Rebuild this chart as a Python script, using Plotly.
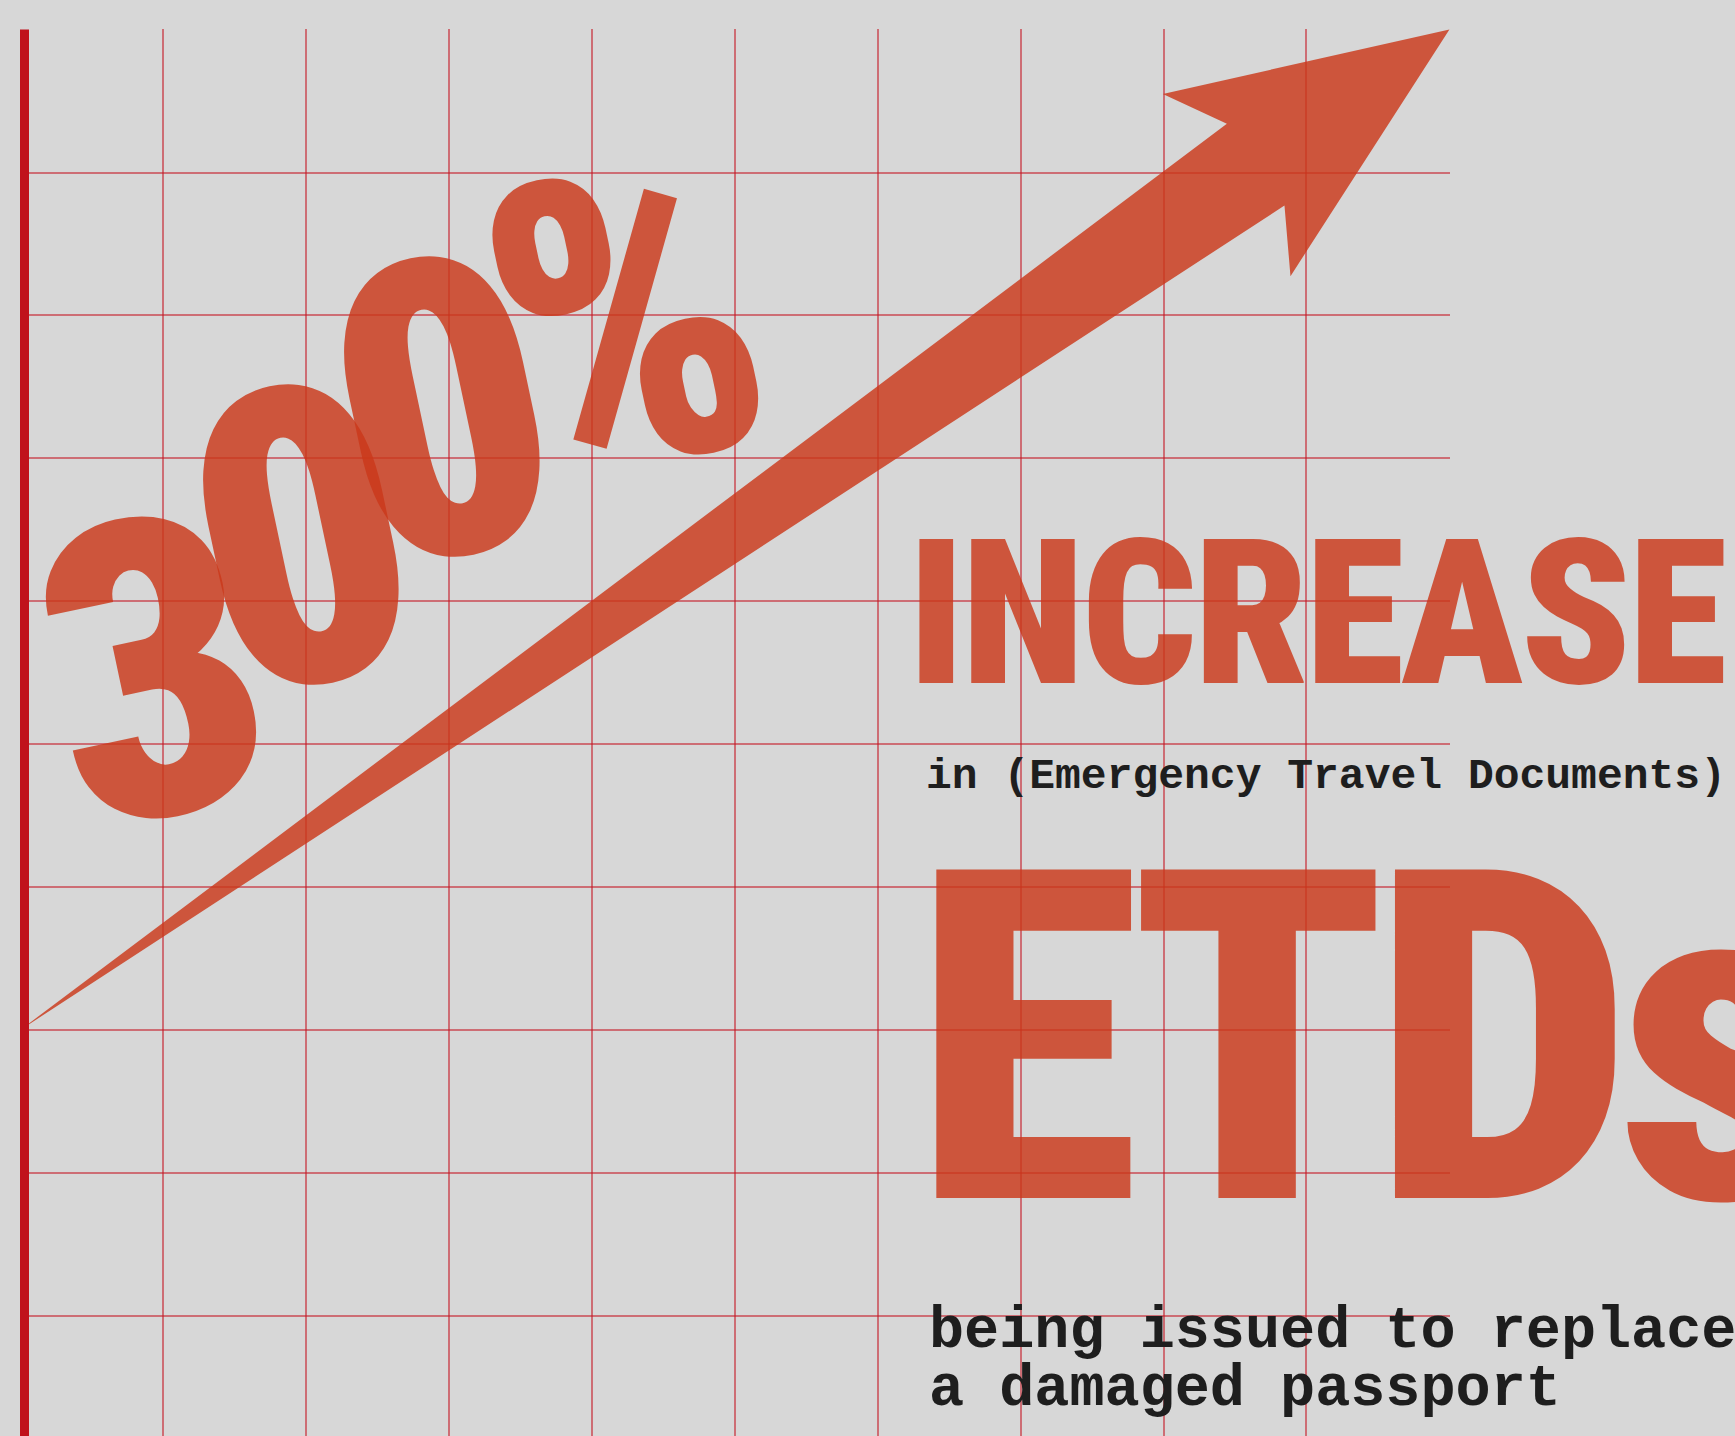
import plotly.graph_objects as go

# ---------------- data ----------------
grid_x = [0, 1, 2, 3, 4, 5, 6, 7, 8, 9, 10]
grid_y = [1, 2, 3, 4, 5, 6, 7, 8, 9, 10]
arrow_x = [0.0, 8.443, 7.995, 10.0, 8.888, 8.846, 0.0]
arrow_y = [3.0, 9.341, 9.550, 10.0, 8.275, 8.769, 3.0]
pct_chars = ["3", "0", "0", "%"]
headline = "INCREASE"
subline = "in (Emergency Travel Documents)"
big_word = "ETDs"
footer_lines = ["being issued to replace", "a damaged passport"]

W, H = 1735, 1436
L, T, R = 20, 29, 1450
CELL = 143.0
Y_TOP = 10.0
Y_BOT = Y_TOP - (H - T) / CELL

def dx(px):
    return (px - L) / CELL

def dy(py):
    return Y_TOP - (py - T) / CELL

ORANGE = "rgba(203,56,26,0.82)"
GRID = "rgba(196,22,34,0.55)"
BG = "#d7d7d7"
INK = "#1e1e1e"

def cond(s, ls="0em"):
    return '<span style="font-stretch:75%;letter-spacing:' + ls + '">' + s + '</span>'

fig = go.Figure()
fig.add_trace(go.Scatter(x=arrow_x, y=arrow_y, mode="lines", fill="toself",
                         fillcolor=ORANGE, line=dict(width=0), hoverinfo="skip",
                         showlegend=False))

ann = []
pct_pos = [(154, 672), (302, 540), (443, 412), (627, 322)]
for ch, (px, py) in zip(pct_chars, pct_pos):
    ann.append(dict(x=dx(px), y=dy(py), text=cond(ch),
                    showarrow=False, textangle=-12,
                    font=dict(family="Roboto", size=415, color=ORANGE, weight=900),
                    xanchor="center", yanchor="middle"))
ann.append(dict(x=dx(906), y=dy(614), text=cond(headline, "-0.015em"),
                showarrow=False, xanchor="left", yanchor="middle",
                font=dict(family="Roboto", size=202, color=ORANGE, weight=900)))
ann.append(dict(x=dx(924), y=dy(776), text=subline, showarrow=False, xanchor="left", yanchor="middle",
                font=dict(family="Liberation Mono", size=43, color=INK, weight=700)))
ann.append(dict(x=dx(912), y=dy(1040), text=cond(big_word, "-0.03em"),
                showarrow=False, xanchor="left", yanchor="middle",
                font=dict(family="Roboto", size=462, color=ORANGE, weight=900)))
for i, line in enumerate(footer_lines):
    ann.append(dict(x=dx(927), y=dy(1331 + i * 58), text=line, showarrow=False,
                    xanchor="left", yanchor="middle",
                    font=dict(family="Liberation Mono", size=58.5, color=INK, weight=700)))

fig.update_layout(
    width=W, height=H, margin=dict(l=L, r=W - R, t=T, b=0, pad=0),
    paper_bgcolor=BG, plot_bgcolor=BG, annotations=ann,
    xaxis=dict(range=[0, 10.004], tickvals=grid_x, showgrid=True, gridcolor=GRID, gridwidth=2,
               showticklabels=False, zeroline=False, showline=False, ticks=""),
    yaxis=dict(range=[Y_BOT, Y_TOP + 0.004], tickvals=grid_y, showgrid=True, gridcolor=GRID, gridwidth=2,
               showticklabels=False, zeroline=False, showline=False, ticks=""),
    shapes=[dict(type="line", xref="x", yref="y", x0=dx(23), x1=dx(23), y0=Y_BOT, y1=Y_TOP,
                 line=dict(color="#c0121c", width=12))],
)
fig.write_html("out.html", config={"displayModeBar": False},
               post_script="document.body.style.margin='0px';")
